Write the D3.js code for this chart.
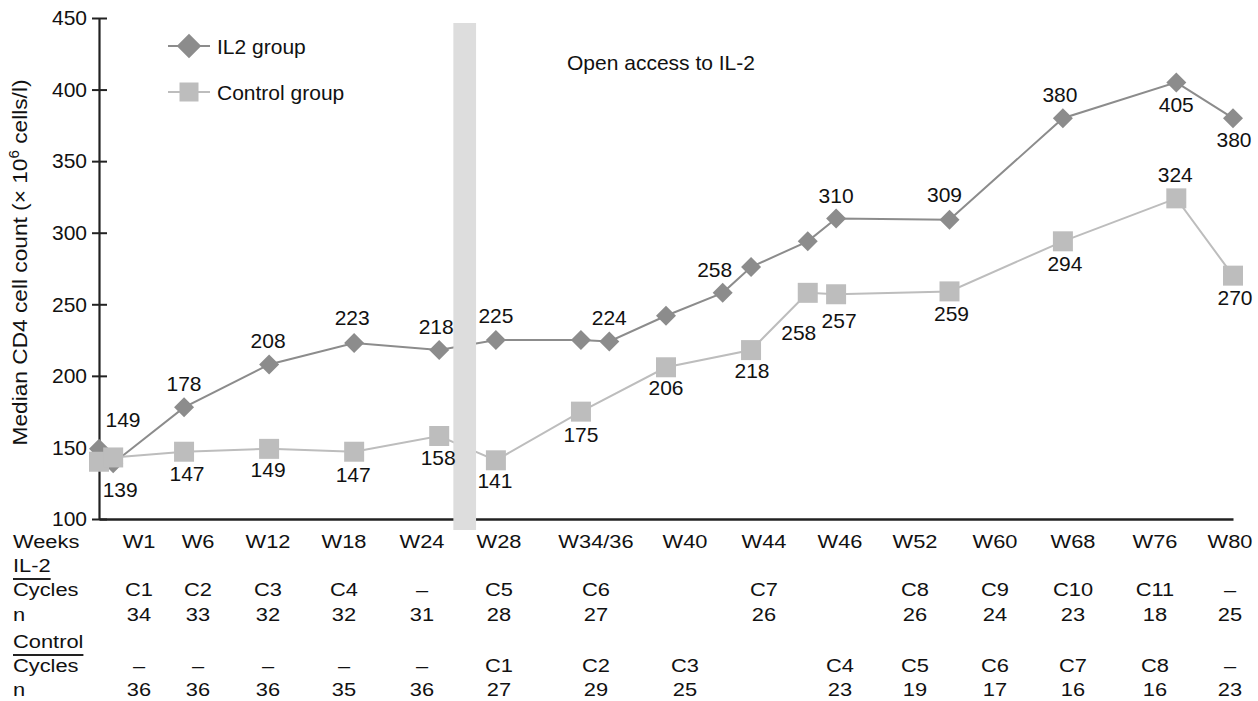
<!DOCTYPE html>
<html>
<head>
<meta charset="utf-8">
<script src="https://cdn.jsdelivr.net/npm/d3@7"></script>
<style>
  html, body { margin: 0; padding: 0; background: #fff; }
  svg { display: block; font-family: "Liberation Sans", Arial, Helvetica, sans-serif; }
</style>
</head>
<body>
<svg id="chart" width="1258" height="701"></svg>
<script>
// ---- Median CD4 counts (x10^6 cells/l) by study week ----
const il2Weeks   = [0, 1, 6, 12, 18, 24, 28, 34, 36, 40, 44, 46, 50, 52, 60, 68, 76, 80];
const il2Values  = [149, 139, 178, 208, 223, 218, 225, 225, 224, 242, 258, 276, 294, 310, 309, 380, 405, 380];
const il2Shown   = [true, true, true, true, true, true, true, false, true, false, true, false, false, true, true, true, true, true];

const ctrlWeeks  = [0, 1, 6, 12, 18, 24, 28, 34, 40, 46, 50, 52, 60, 68, 76, 80];
const ctrlValues = [140, 143, 147, 149, 147, 158, 141, 175, 206, 218, 258, 257, 259, 294, 324, 270];
const ctrlShown  = [false, false, true, true, true, true, true, true, true, true, true, true, true, true, true, true];

const yTicks = [100, 150, 200, 250, 300, 350, 400, 450];
const openAccessWeeks = [25, 26.6];

// ---- Schedule table under the plot ----
const tableWeeks = ["W1", "W6", "W12", "W18", "W24", "W28", "W34/36", "W40", "W44", "W46", "W52", "W60", "W68", "W76", "W80"];
const il2Cycles  = ["C1", "C2", "C3", "C4", "\u2013", "C5", "C6", "", "C7", "", "C8", "C9", "C10", "C11", "\u2013"];
const il2N       = ["34", "33", "32", "32", "31", "28", "27", "", "26", "", "26", "24", "23", "18", "25"];
const ctrlCycles = ["\u2013", "\u2013", "\u2013", "\u2013", "\u2013", "C1", "C2", "C3", "", "C4", "C5", "C6", "C7", "C8", "\u2013"];
const ctrlN      = ["36", "36", "36", "35", "36", "27", "29", "25", "", "23", "19", "17", "16", "16", "23"];

// ---- Layout ----
const tableColX = [139, 198, 268, 344, 422, 499, 596, 685, 764, 840, 915, 995, 1073, 1155, 1230];
// value label offsets from each marker: [dx, baseline dy]
const il2LabelOffset = [[24, -22], [7, 34], [0, -16], [-1, -16], [-2, -18], [-3, -16], [0, -17], null, [0, -17], null,
                        [-8, -16], null, null, [0, -15], [-5, -18], [-3, -16], [0, 30], [1, 29]];
const ctrlLabelOffset = [null, null, [3, 29], [-1, 28], [-1, 30], [-1, 29], [-1, 28], [0, 30], [0, 28], [1, 28],
                         [-9, 47], [3, 34], [2, 30], [2, 30], [-1, -16], [2, 29]];

const il2Color = "#8c8c8c";
const ctrlColor = "#bdbdbd";
const textColor = "#111";

const svg = d3.select("#chart");

const x = d3.scaleLinear().domain([0, 80]).range([99, 1233]);
const y = d3.scaleLinear().domain([100, 450]).range([519, 18]);

// ---- Axes ----
const yAxisG = svg.append("g")
  .attr("transform", `translate(${x(0)},0)`)
  .call(d3.axisLeft(y).tickValues(yTicks).tickSizeInner(7).tickSizeOuter(0).tickPadding(5).tickFormat(d3.format("d")));
yAxisG.select(".domain").attr("stroke", "#222").attr("stroke-width", 2.2);
yAxisG.selectAll(".tick line").attr("stroke", "#222").attr("stroke-width", 2).attr("x1", 8);
yAxisG.selectAll(".tick text")
  .attr("fill", textColor).attr("font-size", 21).attr("font-family", null);

const xAxisG = svg.append("g")
  .attr("transform", `translate(0,${y(100)})`)
  .call(d3.axisBottom(x).tickValues([]).tickSizeOuter(0));
xAxisG.select(".domain").attr("stroke", "#222").attr("stroke-width", 2.5);

// y axis title
const yTitle = svg.append("text")
  .attr("transform", `translate(27,${(y(100) + y(450)) / 2 - 6}) rotate(-90)`)
  .attr("text-anchor", "middle")
  .attr("font-size", 21)
  .attr("textLength", 366)
  .attr("lengthAdjust", "spacingAndGlyphs")
  .attr("fill", textColor);
yTitle.append("tspan").text("Median CD4 cell count (\u00d7 10");
yTitle.append("tspan").attr("font-size", 14).attr("dy", -8).text("6");
yTitle.append("tspan").attr("dy", 8).text(" cells/l)");

// ---- Series ----
const il2Data = il2Weeks.map((w, i) => ({ w, v: il2Values[i], shown: il2Shown[i], off: il2LabelOffset[i] }));
const ctrlData = ctrlWeeks.map((w, i) => ({ w, v: ctrlValues[i], shown: ctrlShown[i], off: ctrlLabelOffset[i] }));

const line = d3.line().x(d => x(d.w)).y(d => y(d.v));

svg.append("path").datum(il2Data)
  .attr("d", line).attr("fill", "none").attr("stroke", il2Color).attr("stroke-width", 2);
svg.append("path").datum(ctrlData)
  .attr("d", line).attr("fill", "none").attr("stroke", ctrlColor).attr("stroke-width", 2);

// open access marker band
svg.append("rect")
  .attr("x", x(openAccessWeeks[0]))
  .attr("width", x(openAccessWeeks[1]) - x(openAccessWeeks[0]))
  .attr("y", y(450) + 5)
  .attr("height", y(100) - y(450) + 6)
  .attr("fill", "#dddddd");

const diamond = d3.symbol().type(d3.symbolSquare).size(200);
const square = d3.symbol().type(d3.symbolSquare).size(400);

svg.append("g").selectAll("path").data(il2Data).join("path")
  .attr("d", diamond)
  .attr("transform", d => `translate(${x(d.w)},${y(d.v)}) rotate(45)`)
  .attr("fill", il2Color);

svg.append("g").selectAll("path").data(ctrlData).join("path")
  .attr("d", square)
  .attr("transform", d => `translate(${x(d.w)},${y(d.v)})`)
  .attr("fill", ctrlColor);

// value labels
function drawLabels(data) {
  svg.append("g").selectAll("text").data(data.filter(d => d.shown)).join("text")
    .attr("x", d => x(d.w) + d.off[0])
    .attr("y", d => y(d.v) + d.off[1])
    .attr("text-anchor", "middle")
    .attr("font-size", 21)
    .attr("fill", textColor)
    .text(d => d.v);
}
drawLabels(il2Data);
drawLabels(ctrlData);

svg.append("text")
  .attr("x", 567).attr("y", 70)
  .attr("font-size", 21).attr("fill", textColor)
  .text("Open access to IL-2");

// ---- Legend ----
const legend = svg.append("g").attr("transform", "translate(189,0)");
const legendItems = [
  { label: "IL2 group", color: il2Color, sym: d3.symbol().type(d3.symbolSquare).size(300), rot: 45, cy: 46 },
  { label: "Control group", color: ctrlColor, sym: d3.symbol().type(d3.symbolSquare).size(361), rot: 0, cy: 92 }
];
legendItems.forEach(it => {
  legend.append("line").attr("x1", -21).attr("x2", 21).attr("y1", it.cy).attr("y2", it.cy)
    .attr("stroke", it.color).attr("stroke-width", 2);
  legend.append("path").attr("d", it.sym).attr("fill", it.color)
    .attr("transform", `translate(0,${it.cy}) rotate(${it.rot})`);
  legend.append("text").attr("x", 28).attr("y", it.cy + 7.5)
    .attr("font-size", 21).attr("fill", textColor).text(it.label);
});

// ---- Table ----
const table = svg.append("g").attr("fill", textColor).attr("font-size", 19);
const rows = [
  { head: "Weeks", cells: tableWeeks, by: 548 },
  { head: "IL-2", cells: null, by: 572, rule: true },
  { head: "Cycles", cells: il2Cycles, by: 596 },
  { head: "n", cells: il2N, by: 621 },
  { head: "Control", cells: null, by: 648, rule: true },
  { head: "Cycles", cells: ctrlCycles, by: 672 },
  { head: "n", cells: ctrlN, by: 696 }
];
const stretch = 1.15;
rows.forEach(r => {
  const t = table.append("text")
    .attr("transform", `translate(13,${r.by}) scale(${stretch},1)`)
    .text(r.head);
  if (r.rule) {
    const w = t.node().getComputedTextLength() * stretch;
    table.append("line").attr("x1", 13).attr("x2", 13 + w)
      .attr("y1", r.by + 7).attr("y2", r.by + 7)
      .attr("stroke", "#222").attr("stroke-width", 2);
  }
  if (r.cells) {
    table.append("g").selectAll("text").data(r.cells).join("text")
      .attr("transform", (d, i) => `translate(${tableColX[i]},${r.by}) scale(${stretch},1)`)
      .attr("text-anchor", "middle")
      .text(d => d);
  }
});
</script>
</body>
</html>
